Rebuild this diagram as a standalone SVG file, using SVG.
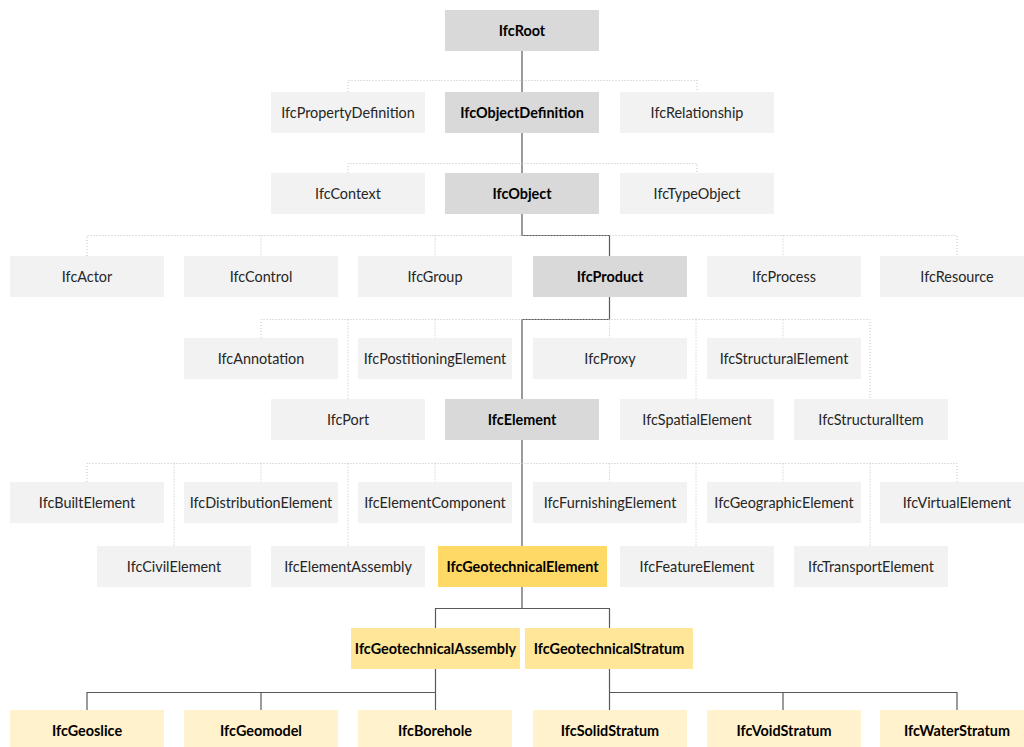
<svg xmlns="http://www.w3.org/2000/svg" width="1024" height="747" viewBox="0 0 1024 747">
  <style>
    .box { fill: #f2f2f2; }
    .key { fill: #d9d9d9; }
    .geo1 { fill: #ffd966; }
    .geo2 { fill: #ffe699; }
    .geo3 { fill: #fff2cc; }
    text { font-family: "Lato", "Liberation Sans", sans-serif; font-size: 14.4px; fill: #262626; text-anchor: middle; dominant-baseline: central; }
    text.b { font-weight: bold; fill: #000000; }
    .solid { fill: none; stroke: #595959; stroke-width: 1.2; }
    .dot { fill: none; stroke: #c0c0c0; stroke-width: 1; stroke-dasharray: 1 2; }
  </style>
  <rect width="1024" height="747" fill="#ffffff"/>

  <!-- connectors: solid = main inheritance chain, dotted = sibling subtypes -->
  <g id="connectors">
    <!-- IfcRoot -->
    <path class="solid" d="M522 51 V92"/>
    <path class="dot" d="M348 92 V80.5 H697 V92"/>
    <!-- IfcObjectDefinition -->
    <path class="solid" d="M522 133 V173"/>
    <path class="dot" d="M348 173 V163.5 H697 V173"/>
    <!-- IfcObject -->
    <path class="solid" d="M522 214 V235.5 H609.5 V256"/>
    <path class="dot" d="M87 256 V235.5 H957 V256 M261 235.5 V256 M435 235.5 V256 M783 235.5 V256"/>
    <!-- IfcProduct -->
    <path class="solid" d="M609.5 297 V319.5 H522 V399"/>
    <path class="dot" d="M261 338 V319.5 H870 V399 M348 319.5 V399 M435 319.5 V338 M609.5 319.5 V338 M696 319.5 V399 M783 319.5 V338"/>
    <!-- IfcElement -->
    <path class="solid" d="M522 440 V546"/>
    <path class="dot" d="M87 482 V463.5 H957 V482 M174 463.5 V546 M261 463.5 V482 M348 463.5 V546 M435 463.5 V482 M609.5 463.5 V482 M696 463.5 V546 M783 463.5 V482 M870 463.5 V546"/>
    <!-- IfcGeotechnicalElement -->
    <path class="solid" d="M522 587 V608.5 M435.5 628 V608.5 H609.5 V628"/>
    <!-- IfcGeotechnicalAssembly -->
    <path class="solid" d="M435.5 669 V710 M87 710 V692.5 H435.5 M261 692.5 V710"/>
    <!-- IfcGeotechnicalStratum -->
    <path class="solid" d="M609.5 669 V710 M609.5 692.5 H957 V710 M783 692.5 V710"/>
  </g>

  <!-- row 1 -->
  <g id="IfcRoot"><rect class="key" x="445" y="10" width="154" height="41"/><text class="b" x="522" y="30.5">IfcRoot</text></g>

  <!-- row 2 -->
  <g id="IfcPropertyDefinition"><rect class="box" x="271" y="92" width="154" height="41"/><text x="348" y="112.5">IfcPropertyDefinition</text></g>
  <g id="IfcObjectDefinition"><rect class="key" x="445" y="92" width="154" height="41"/><text class="b" x="522" y="112.5">IfcObjectDefinition</text></g>
  <g id="IfcRelationship"><rect class="box" x="620" y="92" width="154" height="41"/><text x="697" y="112.5">IfcRelationship</text></g>

  <!-- row 3 -->
  <g id="IfcContext"><rect class="box" x="271" y="173" width="154" height="41"/><text x="348" y="193.5">IfcContext</text></g>
  <g id="IfcObject"><rect class="key" x="445" y="173" width="154" height="41"/><text class="b" x="522" y="193.5">IfcObject</text></g>
  <g id="IfcTypeObject"><rect class="box" x="620" y="173" width="154" height="41"/><text x="697" y="193.5">IfcTypeObject</text></g>

  <!-- row 4 -->
  <g id="IfcActor"><rect class="box" x="10" y="256" width="154" height="41"/><text x="87" y="276.5">IfcActor</text></g>
  <g id="IfcControl"><rect class="box" x="184" y="256" width="154" height="41"/><text x="261" y="276.5">IfcControl</text></g>
  <g id="IfcGroup"><rect class="box" x="358" y="256" width="154" height="41"/><text x="435" y="276.5">IfcGroup</text></g>
  <g id="IfcProduct"><rect class="key" x="533" y="256" width="154" height="41"/><text class="b" x="610" y="276.5">IfcProduct</text></g>
  <g id="IfcProcess"><rect class="box" x="707" y="256" width="154" height="41"/><text x="784" y="276.5">IfcProcess</text></g>
  <g id="IfcResource"><rect class="box" x="880" y="256" width="154" height="41"/><text x="957" y="276.5">IfcResource</text></g>

  <!-- row 5 -->
  <g id="IfcAnnotation"><rect class="box" x="184" y="338" width="154" height="41"/><text x="261" y="358.5">IfcAnnotation</text></g>
  <g id="IfcPostitioningElement"><rect class="box" x="358" y="338" width="154" height="41"/><text x="435" y="358.5">IfcPostitioningElement</text></g>
  <g id="IfcProxy"><rect class="box" x="533" y="338" width="154" height="41"/><text x="610" y="358.5">IfcProxy</text></g>
  <g id="IfcStructuralElement"><rect class="box" x="707" y="338" width="154" height="41"/><text x="784" y="358.5">IfcStructuralElement</text></g>

  <!-- row 6 -->
  <g id="IfcPort"><rect class="box" x="271" y="399" width="154" height="41"/><text x="348" y="419.5">IfcPort</text></g>
  <g id="IfcElement"><rect class="key" x="445" y="399" width="154" height="41"/><text class="b" x="522" y="419.5">IfcElement</text></g>
  <g id="IfcSpatialElement"><rect class="box" x="620" y="399" width="154" height="41"/><text x="697" y="419.5">IfcSpatialElement</text></g>
  <g id="IfcStructuralItem"><rect class="box" x="794" y="399" width="154" height="41"/><text x="871" y="419.5">IfcStructuralItem</text></g>

  <!-- row 7 -->
  <g id="IfcBuiltElement"><rect class="box" x="10" y="482" width="154" height="41"/><text x="87" y="502.5">IfcBuiltElement</text></g>
  <g id="IfcDistributionElement"><rect class="box" x="184" y="482" width="154" height="41"/><text x="261" y="502.5">IfcDistributionElement</text></g>
  <g id="IfcElementComponent"><rect class="box" x="358" y="482" width="154" height="41"/><text x="435" y="502.5">IfcElementComponent</text></g>
  <g id="IfcFurnishingElement"><rect class="box" x="533" y="482" width="154" height="41"/><text x="610" y="502.5">IfcFurnishingElement</text></g>
  <g id="IfcGeographicElement"><rect class="box" x="707" y="482" width="154" height="41"/><text x="784" y="502.5">IfcGeographicElement</text></g>
  <g id="IfcVirtualElement"><rect class="box" x="880" y="482" width="154" height="41"/><text x="957" y="502.5">IfcVirtualElement</text></g>

  <!-- row 8 -->
  <g id="IfcCivilElement"><rect class="box" x="97" y="546" width="154" height="41"/><text x="174" y="566.5">IfcCivilElement</text></g>
  <g id="IfcElementAssembly"><rect class="box" x="271" y="546" width="154" height="41"/><text x="348" y="566.5">IfcElementAssembly</text></g>
  <g id="IfcGeotechnicalElement"><rect class="geo1" x="438" y="546" width="169" height="41"/><text class="b" x="522.5" y="566.5">IfcGeotechnicalElement</text></g>
  <g id="IfcFeatureElement"><rect class="box" x="620" y="546" width="154" height="41"/><text x="697" y="566.5">IfcFeatureElement</text></g>
  <g id="IfcTransportElement"><rect class="box" x="794" y="546" width="154" height="41"/><text x="871" y="566.5">IfcTransportElement</text></g>

  <!-- row 9 -->
  <g id="IfcGeotechnicalAssembly"><rect class="geo2" x="351" y="628" width="169" height="41"/><text class="b" x="435.5" y="648.5">IfcGeotechnicalAssembly</text></g>
  <g id="IfcGeotechnicalStratum"><rect class="geo2" x="525" y="628" width="168" height="41"/><text class="b" x="609" y="648.5">IfcGeotechnicalStratum</text></g>

  <!-- row 10 -->
  <g id="IfcGeoslice"><rect class="geo3" x="10" y="710" width="154" height="41"/><text class="b" x="87" y="730.5">IfcGeoslice</text></g>
  <g id="IfcGeomodel"><rect class="geo3" x="184" y="710" width="154" height="41"/><text class="b" x="261" y="730.5">IfcGeomodel</text></g>
  <g id="IfcBorehole"><rect class="geo3" x="358" y="710" width="154" height="41"/><text class="b" x="435" y="730.5">IfcBorehole</text></g>
  <g id="IfcSolidStratum"><rect class="geo3" x="533" y="710" width="154" height="41"/><text class="b" x="610" y="730.5">IfcSolidStratum</text></g>
  <g id="IfcVoidStratum"><rect class="geo3" x="707" y="710" width="154" height="41"/><text class="b" x="784" y="730.5">IfcVoidStratum</text></g>
  <g id="IfcWaterStratum"><rect class="geo3" x="880" y="710" width="154" height="41"/><text class="b" x="957" y="730.5">IfcWaterStratum</text></g>
</svg>
